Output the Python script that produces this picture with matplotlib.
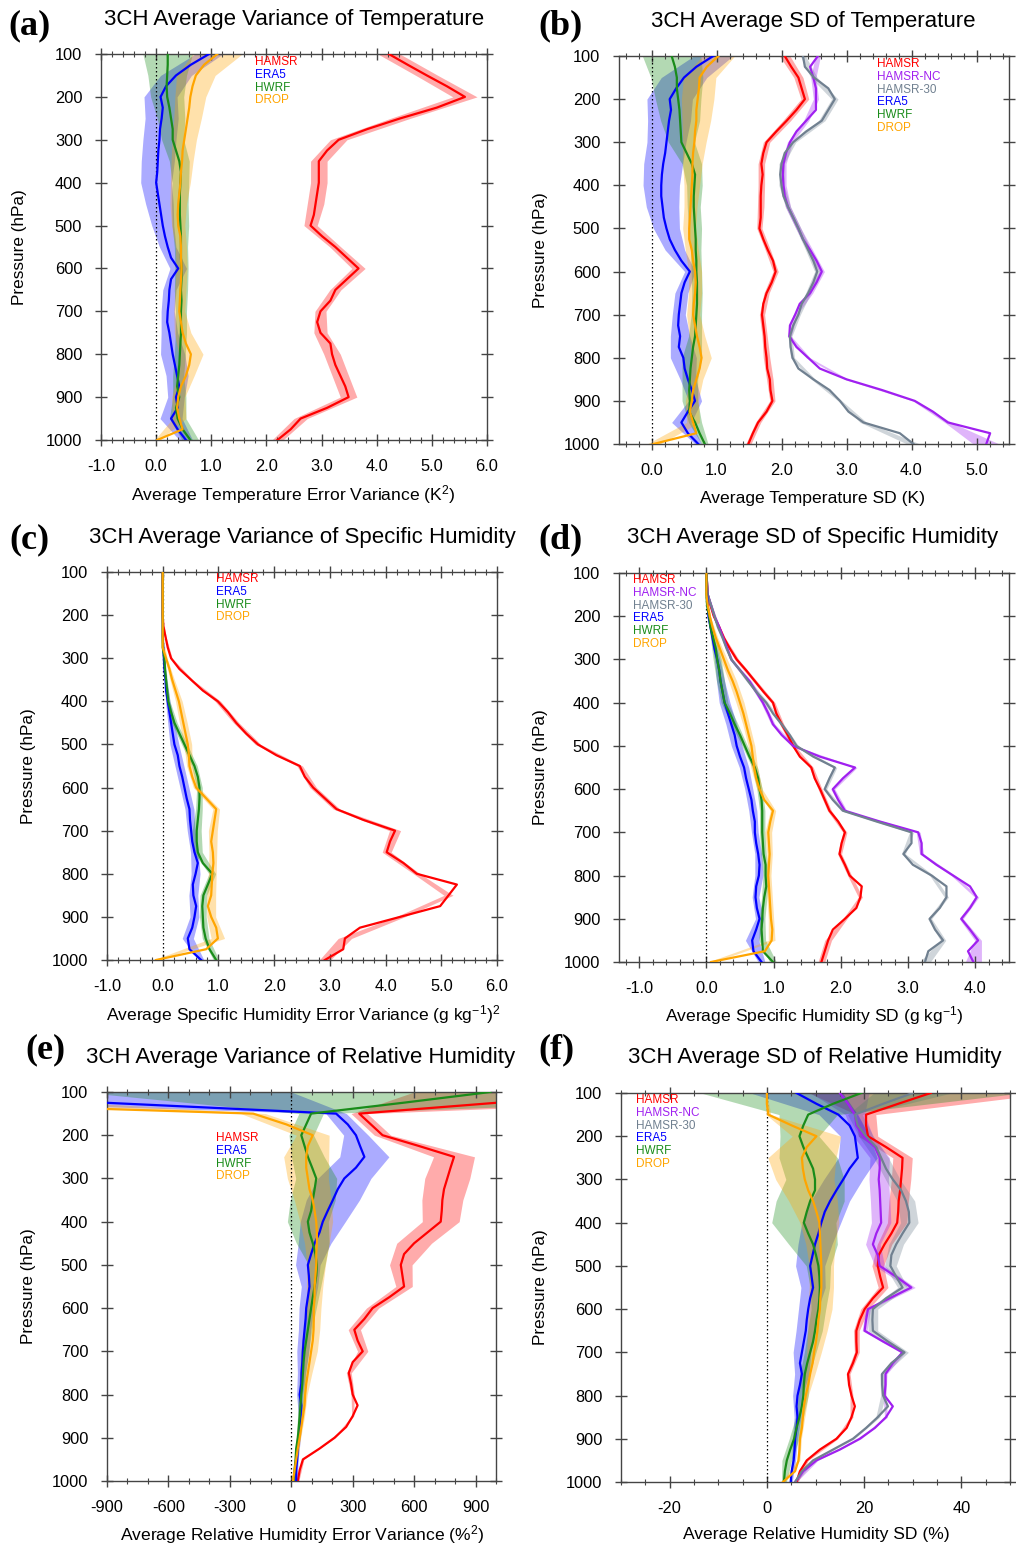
import numpy as np
import matplotlib
matplotlib.use('Agg')
import matplotlib.pyplot as plt
from matplotlib.ticker import MultipleLocator, FormatStrFormatter

plt.rcParams['font.family'] = ['Liberation Sans', 'DejaVu Sans']
plt.rcParams['axes.unicode_minus'] = False
plt.rcParams['mathtext.fontset'] = 'custom'
plt.rcParams['mathtext.rm'] = 'Liberation Sans'
plt.rcParams['mathtext.it'] = 'Liberation Sans'

# pressure levels (hPa): lines every 25 hPa, spread bands every 50 hPa
P = [100, 125, 150, 175, 200, 225, 250, 275, 300, 325, 350, 375, 400, 425, 450, 475, 500,
     525, 550, 575, 600, 625, 650, 675, 700, 725, 750, 775, 800, 825, 850, 875, 900, 925,
     950, 975, 1000]
P_BAND = P[::2]

# ---------------- (a) temperature error variance (K^2)
a_hamsr = [4.22, 4.56, 4.91, 5.27, 5.60, 5.09, 4.43, 3.83, 3.31, 3.10, 2.95, 2.95, 2.95, 2.92, 2.89,
           2.86, 2.80, 3.01, 3.25, 3.46, 3.67, 3.46, 3.25, 3.16, 2.98, 2.92, 2.98, 3.16, 3.19, 3.25,
           3.34, 3.43, 3.49, 3.10, 2.62, 2.44, 2.20]
a_era5 = [0.96, 0.63, 0.36, 0.18, 0.08, 0.12, 0.10, 0.07, 0.06, 0.04, 0.03, 0.02, 0.00, 0.03, 0.06,
          0.09, 0.12, 0.16, 0.21, 0.27, 0.40, 0.27, 0.24, 0.23, 0.21, 0.20, 0.24, 0.27, 0.30, 0.34,
          0.38, 0.42, 0.36, 0.39, 0.27, 0.39, 0.54]
a_hwrf = [0.21, 0.21, 0.20, 0.19, 0.20, 0.24, 0.27, 0.30, 0.30, 0.36, 0.42, 0.45, 0.44, 0.43, 0.43,
          0.43, 0.44, 0.45, 0.45, 0.45, 0.46, 0.46, 0.45, 0.46, 0.45, 0.45, 0.45, 0.44, 0.43, 0.42,
          0.40, 0.38, 0.42, 0.36, 0.39, 0.48, 0.62]
a_drop = [1.11, 0.87, 0.72, 0.66, 0.62, 0.60, 0.57, 0.54, 0.51, 0.48, 0.47, 0.45, 0.44, 0.42, 0.40,
          0.39, 0.40, 0.44, 0.45, 0.45, 0.46, 0.45, 0.44, 0.43, 0.42, 0.45, 0.48, 0.54, 0.63, 0.60,
          0.54, 0.45, 0.40, 0.38, 0.42, 0.48, 0.02]
a_hamsr_sp = [0.20, 0.20, 0.22, 0.18, 0.15, 0.15, 0.15, 0.15, 0.12, 0.10, 0.12, 0.10, 0.10, 0.12,
              0.15, 0.15, 0.15, 0.12, 0.10]
a_era5_sp = [0.25, 0.28, 0.30, 0.30, 0.30, 0.30, 0.28, 0.25, 0.20, 0.15, 0.15, 0.12, 0.12, 0.15,
             0.22, 0.20, 0.15, 0.20, 0.12]
a_hwrf_sp = [0.45, 0.35, 0.30, 0.25, 0.20, 0.18, 0.15, 0.15, 0.15, 0.12, 0.12, 0.12, 0.10, 0.10,
             0.10, 0.10, 0.12, 0.15, 0.15]
a_drop_sp = [0.45, 0.35, 0.28, 0.25, 0.22, 0.20, 0.18, 0.15, 0.12, 0.10, 0.10, 0.10, 0.10, 0.15,
             0.22, 0.15, 0.12, 0.12, 0.05]

# ---------------- (b) temperature SD (K)
b_hamsr = [2.05, 2.15, 2.26, 2.31, 2.36, 2.23, 2.08, 1.92, 1.77, 1.72, 1.69, 1.71, 1.69, 1.68, 1.68,
           1.68, 1.66, 1.72, 1.79, 1.87, 1.91, 1.85, 1.77, 1.72, 1.70, 1.72, 1.74, 1.75, 1.77, 1.78,
           1.82, 1.83, 1.86, 1.77, 1.64, 1.56, 1.49]
b_nc = [2.56, 2.44, 2.49, 2.53, 2.53, 2.53, 2.38, 2.23, 2.13, 2.07, 2.03, 2.02, 2.03, 2.05, 2.10,
        2.18, 2.26, 2.33, 2.44, 2.54, 2.62, 2.54, 2.44, 2.28, 2.21, 2.13, 2.12, 2.23, 2.41, 2.59,
        3.00, 3.55, 4.05, 4.33, 4.56, 5.21, 5.15]
b_30 = [2.33, 2.36, 2.50, 2.72, 2.82, 2.72, 2.62, 2.38, 2.18, 2.05, 2.00, 1.98, 2.00, 2.03, 2.10,
        2.18, 2.26, 2.33, 2.41, 2.49, 2.55, 2.49, 2.41, 2.31, 2.26, 2.18, 2.13, 2.14, 2.17, 2.26,
        2.49, 2.74, 2.90, 3.03, 3.26, 3.82, 4.03]
b_era5 = [0.95, 0.69, 0.50, 0.38, 0.28, 0.30, 0.27, 0.25, 0.23, 0.21, 0.18, 0.16, 0.15, 0.15, 0.17,
          0.19, 0.23, 0.28, 0.36, 0.46, 0.59, 0.51, 0.46, 0.44, 0.42, 0.41, 0.44, 0.42, 0.49, 0.51,
          0.56, 0.62, 0.67, 0.56, 0.46, 0.56, 0.72]
b_hwrf = [0.31, 0.36, 0.39, 0.39, 0.41, 0.43, 0.44, 0.45, 0.46, 0.54, 0.62, 0.67, 0.66, 0.65, 0.65,
          0.66, 0.67, 0.68, 0.68, 0.69, 0.69, 0.70, 0.70, 0.70, 0.69, 0.68, 0.67, 0.64, 0.62, 0.60,
          0.59, 0.58, 0.59, 0.58, 0.67, 0.74, 0.82]
b_drop = [1.03, 0.85, 0.74, 0.73, 0.71, 0.69, 0.69, 0.67, 0.66, 0.64, 0.63, 0.63, 0.62, 0.61, 0.60,
          0.59, 0.58, 0.58, 0.62, 0.64, 0.67, 0.68, 0.67, 0.65, 0.64, 0.67, 0.70, 0.74, 0.77, 0.74,
          0.69, 0.64, 0.62, 0.59, 0.64, 0.69, 0.03]
b_hamsr_sp = [0.08, 0.07, 0.06, 0.06, 0.05, 0.05, 0.05, 0.05, 0.04, 0.04, 0.04, 0.04, 0.04, 0.04,
              0.05, 0.05, 0.04, 0.04, 0.04]
b_nc_sp = [0.04, 0.04, 0.04, 0.04, 0.04, 0.04, 0.04, 0.04, 0.04, 0.04, 0.04, 0.04, 0.03, 0.03,
           0.03, 0.03, 0.03, 0.05, 0.20]
b_30_sp = [0.04, 0.05, 0.05, 0.05, 0.04, 0.04, 0.04, 0.04, 0.04, 0.04, 0.04, 0.04, 0.03, 0.03,
           0.03, 0.03, 0.03, 0.05, 0.10]
b_era5_sp = [0.30, 0.35, 0.35, 0.33, 0.30, 0.30, 0.28, 0.25, 0.20, 0.15, 0.08, 0.10, 0.10, 0.15,
             0.20, 0.12, 0.10, 0.15, 0.05]
b_hwrf_sp = [0.45, 0.40, 0.35, 0.30, 0.20, 0.15, 0.12, 0.10, 0.10, 0.08, 0.08, 0.08, 0.08, 0.10,
             0.15, 0.12, 0.12, 0.10, 0.05]
b_drop_sp = [0.25, 0.25, 0.25, 0.22, 0.18, 0.15, 0.12, 0.10, 0.10, 0.10, 0.10, 0.10, 0.10, 0.12,
             0.15, 0.10, 0.10, 0.10, 0.10]

# ---------------- (c) specific humidity error variance ((g/kg)^2)
c_hamsr = [0, 0, 0, 0, 0, 0.01, 0.05, 0.09, 0.15, 0.30, 0.51, 0.72, 0.99, 1.17, 1.32, 1.50, 1.71,
           2.04, 2.46, 2.55, 2.70, 2.91, 3.12, 3.60, 4.17, 4.08, 4.02, 4.32, 4.56, 5.28, 5.13, 4.98,
           4.26, 3.54, 3.27, 3.24, 2.91]
c_era5 = [0, 0, 0, 0, 0, 0, 0, 0.01, 0.02, 0.03, 0.05, 0.06, 0.09, 0.12, 0.15, 0.18, 0.21, 0.27,
          0.30, 0.35, 0.39, 0.43, 0.48, 0.49, 0.51, 0.53, 0.57, 0.63, 0.59, 0.54, 0.55, 0.60, 0.57,
          0.53, 0.45, 0.48, 0.69]
c_hwrf = [0, 0, 0, 0, 0, 0, 0, 0, 0.03, 0.04, 0.06, 0.08, 0.10, 0.15, 0.21, 0.30, 0.39, 0.48, 0.57,
          0.63, 0.66, 0.66, 0.65, 0.63, 0.61, 0.61, 0.63, 0.72, 0.89, 0.81, 0.73, 0.71, 0.72, 0.73,
          0.77, 0.84, 0.96]
c_drop = [0, 0, 0, 0, 0, 0, 0, 0, 0.06, 0.12, 0.17, 0.23, 0.29, 0.33, 0.37, 0.41, 0.45, 0.47, 0.48,
          0.53, 0.60, 0.78, 0.96, 0.93, 0.90, 0.87, 0.90, 0.91, 0.89, 0.88, 0.87, 0.81, 0.87, 0.96,
          0.99, 0.78, -0.12]
c_hamsr_sp = [0, 0, 0, 0.01, 0.02, 0.03, 0.05, 0.05, 0.05, 0.05, 0.06, 0.06, 0.10, 0.08, 0.06,
              0.08, 0.08, 0.12, 0.10]
c_era5_sp = [0, 0, 0, 0, 0.01, 0.02, 0.04, 0.06, 0.08, 0.08, 0.08, 0.08, 0.07, 0.07, 0.08, 0.08,
             0.08, 0.10, 0.05]
c_hwrf_sp = [0, 0, 0, 0, 0.01, 0.02, 0.03, 0.05, 0.05, 0.05, 0.05, 0.06, 0.08, 0.08, 0.06, 0.06,
             0.06, 0.06, 0.05]
c_drop_sp = [0, 0, 0, 0, 0.02, 0.04, 0.06, 0.07, 0.07, 0.05, 0.05, 0.06, 0.08, 0.07, 0.07, 0.08,
             0.08, 0.12, 0.05]

# ---------------- (d) specific humidity SD (g/kg)
d_hamsr = [0, 0.01, 0.02, 0.06, 0.11, 0.19, 0.26, 0.35, 0.45, 0.59, 0.72, 0.85, 0.99, 1.04, 1.12,
           1.21, 1.29, 1.39, 1.56, 1.61, 1.69, 1.76, 1.83, 1.96, 2.06, 2.01, 1.98, 2.06, 2.13, 2.31,
           2.29, 2.23, 2.06, 1.88, 1.81, 1.76, 1.71]
d_nc = [0, 0.01, 0.02, 0.07, 0.12, 0.19, 0.25, 0.31, 0.37, 0.50, 0.64, 0.74, 0.84, 0.92, 0.99,
        1.12, 1.29, 1.69, 2.21, 2.03, 1.88, 1.96, 2.06, 2.58, 3.15, 3.20, 3.20, 3.42, 3.67, 3.92,
        4.02, 3.92, 3.79, 3.92, 4.04, 3.89, 3.97]
d_30 = [0, 0.01, 0.02, 0.07, 0.12, 0.17, 0.24, 0.30, 0.37, 0.50, 0.62, 0.74, 0.89, 0.99, 1.12,
        1.24, 1.34, 1.59, 1.91, 1.83, 1.76, 1.88, 2.03, 2.53, 3.05, 3.05, 2.93, 3.07, 3.35, 3.57,
        3.57, 3.47, 3.32, 3.40, 3.52, 3.30, 3.25]
d_era5 = [0, 0, 0.01, 0.02, 0.03, 0.06, 0.09, 0.12, 0.16, 0.19, 0.21, 0.24, 0.27, 0.32, 0.37, 0.42,
          0.45, 0.50, 0.56, 0.59, 0.63, 0.67, 0.69, 0.72, 0.72, 0.74, 0.77, 0.79, 0.78, 0.74, 0.73,
          0.75, 0.79, 0.74, 0.68, 0.70, 0.82]
d_hwrf = [0, 0, 0, 0.01, 0.04, 0.06, 0.10, 0.14, 0.16, 0.19, 0.21, 0.24, 0.27, 0.35, 0.42, 0.50,
          0.57, 0.64, 0.72, 0.77, 0.79, 0.82, 0.83, 0.83, 0.83, 0.84, 0.85, 0.88, 0.88, 0.89, 0.86,
          0.84, 0.83, 0.82, 0.83, 0.84, 0.99]
d_drop = [0, 0, 0, 0.02, 0.05, 0.09, 0.14, 0.20, 0.26, 0.32, 0.39, 0.45, 0.50, 0.55, 0.59, 0.63,
          0.67, 0.69, 0.71, 0.74, 0.79, 0.86, 0.99, 0.95, 0.92, 0.93, 0.94, 0.93, 0.92, 0.93, 0.94,
          0.95, 0.96, 0.98, 0.97, 0.87, 0.07]
d_hamsr_sp = [0, 0.01, 0.02, 0.02, 0.03, 0.03, 0.03, 0.03, 0.03, 0.03, 0.03, 0.03, 0.03, 0.03,
              0.03, 0.03, 0.03, 0.05, 0.05]
d_nc_sp = [0, 0.01, 0.02, 0.02, 0.02, 0.03, 0.03, 0.03, 0.03, 0.03, 0.03, 0.03, 0.03, 0.03, 0.03,
           0.03, 0.03, 0.05, 0.12]
d_30_sp = [0, 0.01, 0.02, 0.02, 0.02, 0.03, 0.03, 0.03, 0.03, 0.03, 0.03, 0.03, 0.03, 0.03, 0.03,
           0.03, 0.03, 0.04, 0.08]
d_era5_sp = [0, 0.01, 0.01, 0.02, 0.04, 0.06, 0.08, 0.08, 0.08, 0.07, 0.06, 0.06, 0.05, 0.05,
             0.06, 0.05, 0.06, 0.10, 0.05]
d_hwrf_sp = [0, 0.01, 0.02, 0.04, 0.06, 0.06, 0.05, 0.05, 0.04, 0.04, 0.04, 0.04, 0.04, 0.04,
             0.04, 0.04, 0.04, 0.05, 0.05]
d_drop_sp = [0, 0, 0.01, 0.03, 0.05, 0.06, 0.06, 0.05, 0.05, 0.05, 0.04, 0.04, 0.05, 0.04, 0.04,
             0.04, 0.04, 0.05, 0.05]

# ---------------- (e) relative humidity error variance (%^2)
e_hamsr = [1800, 1000, 332, 389, 446, 624, 795, 778, 762, 746, 738, 735, 730, 665, 600, 551, 535,
           543, 551, 478, 397, 357, 308, 324, 349, 300, 281, 292, 300, 324, 300, 268, 211, 138,
           57, 41, 32]
e_era5 = [-1600, -900, 219, 276, 316, 336, 357, 316, 259, 227, 203, 178, 154, 138, 114, 97, 81, 86,
          89, 81, 73, 70, 65, 60, 57, 54, 50, 49, 41, 49, 45, 41, 37, 32, 29, 24, 24]
e_hwrf = [973, 545, 97, 73, 49, 65, 81, 102, 122, 114, 105, 97, 81, 89, 105, 118, 125, 122, 114,
          105, 97, 89, 81, 73, 65, 60, 57, 54, 49, 45, 41, 37, 32, 24, 21, 16, 11]
e_drop = [-2500, -1860, -186, -24, 105, 81, 73, 73, 81, 89, 105, 114, 122, 125, 125, 122, 122, 118,
          114, 114, 110, 110, 109, 105, 97, 89, 81, 73, 68, 65, 57, 49, 41, 32, 24, 16, 8]
e_hamsr_sp = [1200, 40, 40, 100, 110, 100, 90, 85, 55, 40, 30, 30, 25, 12, 8, 5, 5, 5, 5]
e_era5_sp = [1600, 50, 60, 120, 130, 130, 110, 80, 60, 40, 35, 30, 30, 20, 15, 10, 8, 5, 5]
e_hwrf_sp = [2000, 60, 60, 80, 100, 110, 100, 80, 40, 30, 25, 20, 20, 15, 15, 10, 8, 5, 5]
e_drop_sp = [600, 60, 80, 110, 100, 90, 80, 60, 45, 40, 35, 30, 30, 20, 10, 8, 5, 5, 5]

# ---------------- (f) relative humidity SD (%)
f_hamsr = [33.7, 27.0, 20.4, 20.4, 20.8, 24.5, 27.9, 27.8, 27.6, 27.4, 27.1, 27.0, 26.8, 25.6, 24.2,
           23.0, 22.8, 23.3, 23.9, 21.8, 20.1, 19.1, 18.4, 18.4, 18.5, 17.7, 16.7, 16.9, 17.4, 18.1,
           17.4, 16.4, 14.3, 10.9, 8.2, 6.8, 6.1]
f_nc = [15.0, 16.7, 18.1, 18.4, 19.8, 22.2, 23.2, 23.2, 23.0, 23.2, 23.3, 23.4, 23.5, 22.5, 21.8,
        22.8, 23.2, 26.6, 29.7, 25.2, 20.8, 20.4, 20.1, 23.9, 27.9, 25.9, 24.4, 24.4, 24.2, 25.9,
        24.5, 22.2, 19.1, 15.0, 10.2, 7.5, 5.8]
f_30 = [30.0, 23.9, 18.1, 18.7, 20.4, 22.5, 23.5, 24.5, 25.9, 27.6, 28.6, 29.2, 29.3, 27.9, 26.6,
        25.6, 25.4, 26.6, 27.9, 24.5, 21.8, 21.7, 21.8, 24.9, 28.3, 25.6, 23.7, 23.7, 23.9, 24.9,
        22.8, 20.4, 17.7, 13.6, 9.5, 7.2, 5.8]
f_era5 = [6.1, 10.2, 14.7, 17.0, 18.1, 18.4, 18.7, 17.0, 15.7, 14.3, 13.0, 11.9, 11.2, 10.6, 9.9,
          9.4, 8.9, 9.2, 9.5, 8.9, 8.5, 8.2, 8.0, 7.6, 7.2, 6.8, 7.2, 6.8, 6.3, 6.1, 6.3, 6.1, 5.8,
          5.7, 5.5, 5.1, 4.9]
f_hwrf = [19.4, 13.6, 8.5, 7.5, 6.7, 7.5, 8.5, 9.5, 9.9, 9.9, 8.9, 8.2, 7.6, 8.5, 9.5, 10.1, 10.6,
          10.8, 10.9, 10.8, 10.6, 10.2, 9.9, 9.5, 8.9, 8.3, 7.8, 7.6, 7.5, 7.2, 6.7, 6.1, 5.6, 4.8,
          4.1, 3.7, 3.5]
f_drop = [0, 0, 0.3, 5.1, 10.2, 8.2, 7.2, 7.4, 7.8, 8.5, 9.5, 10.2, 10.8, 10.9, 11.0, 11.1, 11.2,
          11.2, 11.2, 11.0, 10.9, 10.6, 10.4, 10.1, 9.7, 9.4, 8.9, 8.5, 8.0, 7.6, 7.4, 7.2, 6.8,
          6.7, 6.5, 5.8, 3.3]
f_hamsr_sp = [25, 2, 2, 2, 2, 2, 2, 1.5, 1.2, 1, 0.8, 0.6, 0.5, 0.4, 0.3, 0.3, 0.3, 0.3, 0.3]
f_nc_sp = [6, 2, 2, 2, 2, 2, 2, 1.5, 1, 0.8, 0.5, 0.5, 0.5, 0.3, 0.3, 0.3, 0.3, 0.3, 0.3]
f_30_sp = [8, 1.5, 1.5, 1.5, 1.5, 1.8, 1.8, 1.5, 1.2, 1, 1, 1, 0.8, 0.5, 0.5, 0.4, 0.3, 0.3, 0.3]
f_era5_sp = [9.5, 4, 3, 4, 4, 4, 4, 3.5, 3, 2.5, 2, 2, 1.8, 1.5, 1, 0.7, 0.5, 0.4, 0.3]
f_hwrf_sp = [33, 6, 4, 6, 6, 7, 6.6, 5, 2.5, 2, 1.5, 1.5, 1.2, 1, 1, 0.8, 1, 1, 0.5]
f_drop_sp = [0, 0.5, 5, 7, 6, 5, 4, 3, 2.5, 2.5, 2.5, 2, 1.5, 1, 0.5, 0.4, 0.3, 0.3, 0.3]

COLORS = {'HAMSR': '#ff0000', 'HAMSR-NC': '#a020f0', 'HAMSR-30': '#708090',
          'ERA5': '#0000ff', 'HWRF': '#1a8c1a', 'DROP': '#ffa500'}

W, H = 1016, 1546
fig = plt.figure(figsize=(W / 100, H / 100), dpi=100)


def px_axes(l, t, r, b):
    return fig.add_axes([l / W, 1 - b / H, (r - l) / W, (b - t) / H])


def draw_panel(box, series, xlim, major, minor, fmt, tag, tag_xy, title, title_xy,
               xlabel, xlabel_xy, ylabel_x, leg_xy):
    ax = px_axes(*box)
    for name, val, sp in series:
        val = np.array(val, dtype=float)
        sp = np.array(sp, dtype=float)
        mid = val[::2]
        ax.fill_betweenx(P_BAND, mid - sp, mid + sp, color=COLORS[name], alpha=0.33,
                         lw=0, zorder=1)
    ax.axvline(0, color='k', ls=(0, (1.2, 2.0)), lw=0.9, zorder=2)
    for name, val, sp in series:
        ax.plot(val, P, color=COLORS[name], lw=1.6, zorder=3)
    ax.set_xlim(*xlim)
    ax.set_ylim(1000, 100)
    ax.set_yticks(range(100, 1001, 100))
    ax.xaxis.set_major_locator(MultipleLocator(major))
    ax.xaxis.set_minor_locator(MultipleLocator(minor))
    if fmt:
        ax.xaxis.set_major_formatter(FormatStrFormatter(fmt))
    ax.tick_params(which='both', direction='inout', top=True, right=True,
                   colors='#444444', labelcolor='black', labelsize=11.8)
    ax.tick_params(which='major', length=9, width=1)
    ax.tick_params(which='minor', length=5, width=0.8)
    ax.tick_params(axis='x', pad=9)
    ax.tick_params(axis='y', pad=9)
    for s in ax.spines.values():
        s.set_color('#444444')
        s.set_linewidth(1)

    fig.text(tag_xy[0] / W, 1 - tag_xy[1] / H, tag, fontsize=26, fontweight='bold',
             family='Liberation Serif', ha='center', va='center')
    fig.text(title_xy[0] / W, 1 - title_xy[1] / H, title, fontsize=16, ha='center', va='center')
    fig.text(xlabel_xy[0] / W, 1 - xlabel_xy[1] / H, xlabel, fontsize=12.6, ha='center',
             va='center')
    fig.text(ylabel_x / W, 1 - (box[1] + box[3]) / 2 / H, 'Pressure (hPa)', fontsize=12.3,
             rotation=90, ha='center', va='center')
    for i, (name, val, sp) in enumerate(series):
        fig.text(leg_xy[0] / W, 1 - (leg_xy[1] + 12.8 * i) / H, name, color=COLORS[name],
                 fontsize=8.5, ha='left', va='center')
    return ax


draw_panel((101, 54, 487, 440),
           [('HAMSR', a_hamsr, a_hamsr_sp), ('ERA5', a_era5, a_era5_sp),
            ('HWRF', a_hwrf, a_hwrf_sp), ('DROP', a_drop, a_drop_sp)],
           (-1, 6), 1, 0.2, '%.1f', '(a)', (30, 26),
           '3CH Average Variance of Temperature', (294, 19),
           'Average Temperature Error Variance (K$^2$)', (293, 495), 20, (255, 62))

draw_panel((619, 56, 1009, 444),
           [('HAMSR', b_hamsr, b_hamsr_sp), ('HAMSR-NC', b_nc, b_nc_sp),
            ('HAMSR-30', b_30, b_30_sp), ('ERA5', b_era5, b_era5_sp),
            ('HWRF', b_hwrf, b_hwrf_sp), ('DROP', b_drop, b_drop_sp)],
           (-0.5, 5.5), 1, 0.2, '%.1f', '(b)', (560, 26),
           '3CH Average SD of Temperature', (813, 21),
           'Average Temperature SD (K)', (813, 498), 540, (877, 64))

draw_panel((107, 572, 497, 960),
           [('HAMSR', c_hamsr, c_hamsr_sp), ('ERA5', c_era5, c_era5_sp),
            ('HWRF', c_hwrf, c_hwrf_sp), ('DROP', c_drop, c_drop_sp)],
           (-1, 6), 1, 0.2, '%.1f', '(c)', (29, 540),
           '3CH Average Variance of Specific Humidity', (302, 537),
           'Average Specific Humidity Error Variance (g kg$^{-1}$)$^2$', (303, 1015), 28,
           (216, 579))

draw_panel((619, 573, 1009, 962),
           [('HAMSR', d_hamsr, d_hamsr_sp), ('HAMSR-NC', d_nc, d_nc_sp),
            ('HAMSR-30', d_30, d_30_sp), ('ERA5', d_era5, d_era5_sp),
            ('HWRF', d_hwrf, d_hwrf_sp), ('DROP', d_drop, d_drop_sp)],
           (-1.3, 4.5), 1, 0.2, '%.1f', '(d)', (560, 540),
           '3CH Average SD of Specific Humidity', (813, 537),
           'Average Specific Humidity SD (g kg$^{-1}$)', (814, 1016), 540, (633, 580))

draw_panel((107, 1092, 496, 1481),
           [('HAMSR', e_hamsr, e_hamsr_sp), ('ERA5', e_era5, e_era5_sp),
            ('HWRF', e_hwrf, e_hwrf_sp), ('DROP', e_drop, e_drop_sp)],
           (-900, 1000), 300, 100, None, '(e)', (45, 1050),
           '3CH Average Variance of Relative Humidity', (301, 1057),
           'Average Relative Humidity Error Variance (%$^2$)', (302, 1535), 28, (216, 1138))

draw_panel((621, 1093, 1010, 1482),
           [('HAMSR', f_hamsr, f_hamsr_sp), ('HAMSR-NC', f_nc, f_nc_sp),
            ('HAMSR-30', f_30, f_30_sp), ('ERA5', f_era5, f_era5_sp),
            ('HWRF', f_hwrf, f_hwrf_sp), ('DROP', f_drop, f_drop_sp)],
           (-30, 50), 20, 5, None, '(f)', (556, 1050),
           '3CH Average SD of Relative Humidity', (815, 1057),
           'Average Relative Humidity SD (%)', (816, 1535), 540, (636, 1100))

fig.savefig('out.png', dpi=100)
